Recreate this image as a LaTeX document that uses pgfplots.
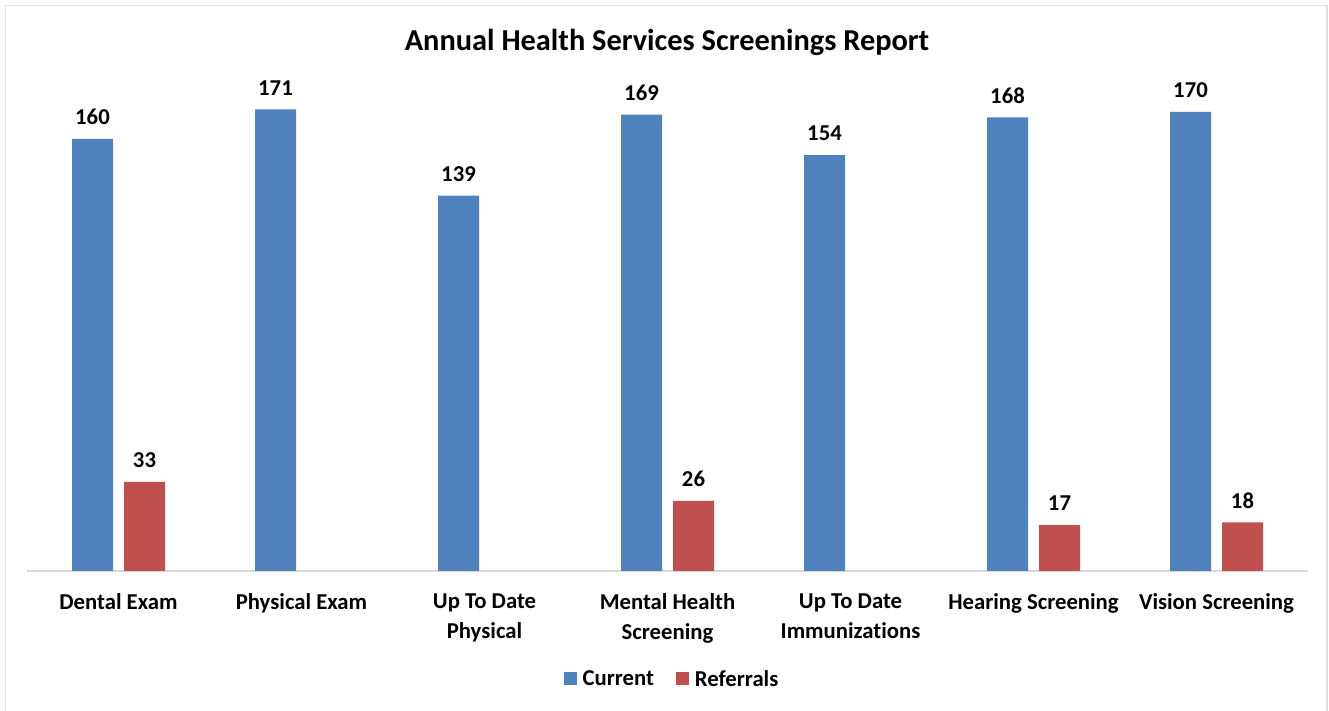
\documentclass[border=0pt]{standalone}
\usepackage{pgfplots}
\pgfplotsset{compat=1.18}
\usepackage{fontspec}
\setmainfont[Ligatures=NoCommon]{Carlito}
\definecolor{cblue}{HTML}{4F81BD}
\definecolor{cred}{HTML}{C0504D}
\definecolor{axgray}{HTML}{D9D9D9}
\begin{document}
\begin{tikzpicture}
\useasboundingbox (0,0) rectangle (1329bp,711bp);
\draw[axgray!80, line width=1.5bp] (5.5bp,-10bp) rectangle (1327bp,705.5bp);
\node[font=\fontsize{30.5}{36}\selectfont\bfseries] at (667bp,669bp) {Annual Health Services Screenings Report};
\begin{axis}[
  at={(27bp,140bp)}, anchor=south west,
  scale only axis, width=1281bp, height=540bp,
  xmin=-0.5, xmax=6.5, ymin=0, ymax=200,
  ybar=11bp, bar width=41bp,
  axis x line=bottom, axis y line=none, ytick=\empty,
  x axis line style={-, axgray, line width=1.2bp},
  xtick={0,...,6}, major tick length=0pt,
  xticklabels={Dental Exam, Physical Exam, {Up To Date\\Physical}, {Mental Health\\Screening}, {Up To Date\\Immunizations}, Hearing Screening, Vision Screening},
  xticklabel style={font=\fontsize{22.8}{30}\selectfont\bfseries, align=center, text=black, yshift=-19bp},
  nodes near coords,
  nodes near coords style={font=\fontsize{22.8}{27}\selectfont\bfseries, text=black, anchor=south, inner sep=0pt, yshift=14bp},
  /pgf/number format/assume math mode=true,
  legend entries={Current, Referrals},
  legend style={at={(0.5035,-0.2)}, anchor=center, draw=none, legend columns=2,
    font=\fontsize{22.8}{27}\selectfont\bfseries,
    /tikz/every odd column/.append style={column sep=4bp},
    /tikz/every even column/.append style={column sep=20bp}},
  legend image code/.code={\fill[#1] (0bp,-6.5bp) rectangle (13bp,6.5bp);},
]
\addplot[fill=cblue, draw=none] coordinates {(0,160)(1,171)(2,139)(3,169)(4,154)(5,168)(6,170)};
\addplot[fill=cred, draw=none] coordinates {(0,33)(3,26)(5,17)(6,18)};
\end{axis}
\end{tikzpicture}
\end{document}
